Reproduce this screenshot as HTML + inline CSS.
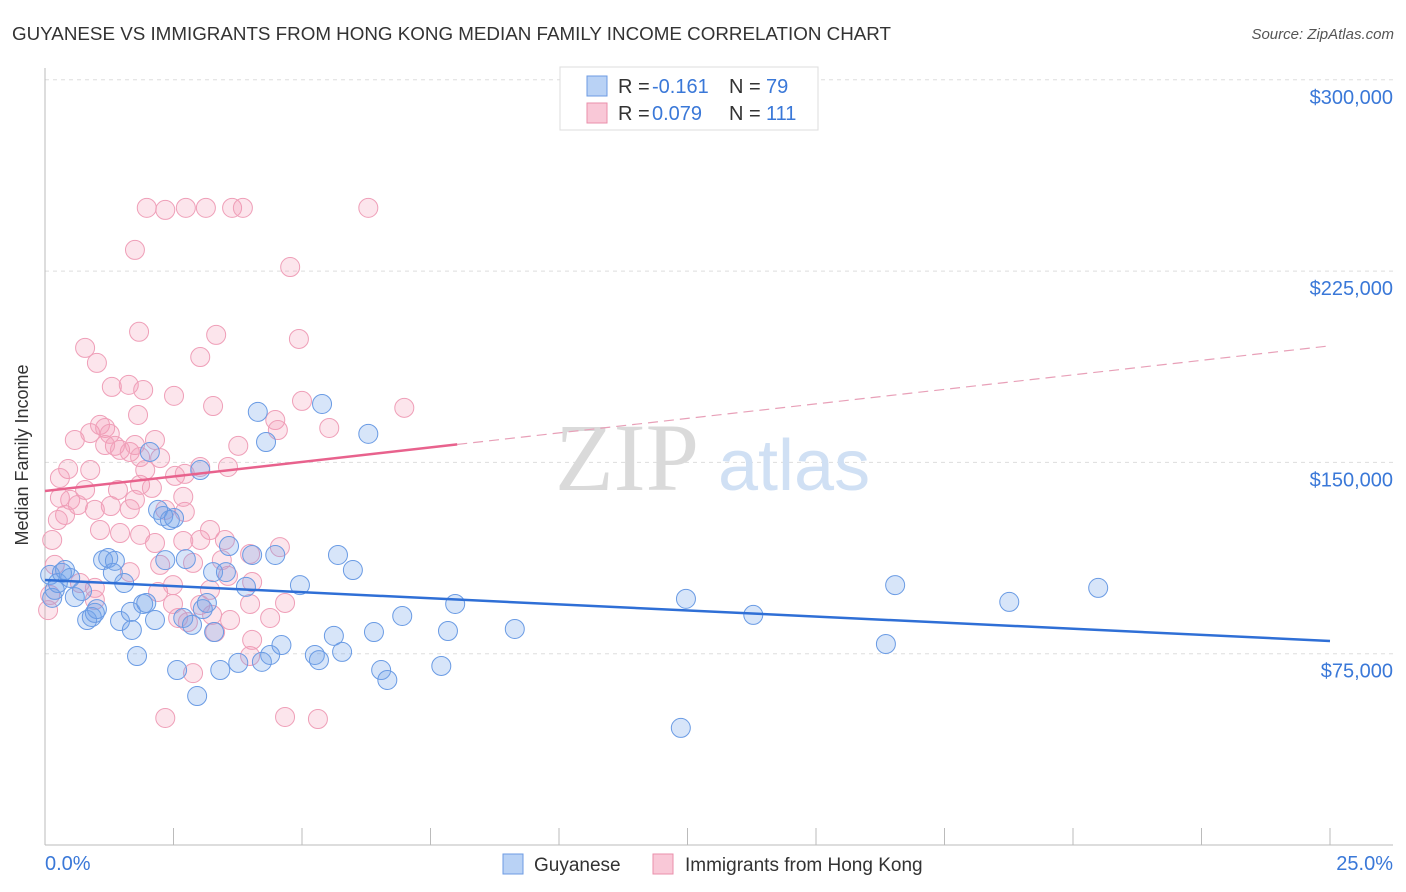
<!DOCTYPE html>
<html><head><meta charset="utf-8"><style>
body{margin:0;background:#fff;font-family:"Liberation Sans",sans-serif}
svg{display:block}
</style></head><body>
<svg width="1406" height="892" viewBox="0 0 1406 892">
<text x="12" y="40" font-size="18.8" fill="#333">GUYANESE VS IMMIGRANTS FROM HONG KONG MEDIAN FAMILY INCOME CORRELATION CHART</text>
<text x="1394" y="39" font-size="15" fill="#555" font-style="italic" text-anchor="end">Source: ZipAtlas.com</text>
<g id="grid"></g>
<text x="555" y="490" font-size="96" font-family="Liberation Serif,serif" fill="#dadada">ZIP</text>
<text x="718" y="490" font-size="72" fill="#d0e0f4">atlas</text>
<g id="pts"></g>
<g id="lines"></g>
<text x="28" y="455" font-size="18" fill="#333" text-anchor="middle" transform="rotate(-90 28 455)">Median Family Income</text>
<text x="45" y="870" font-size="20" fill="#3a78d8">0.0%</text>
<text x="1393" y="870" font-size="20" fill="#3a78d8" text-anchor="end">25.0%</text>
<g>
<rect x="560" y="67" width="258" height="63" fill="#fff" stroke="#ddd"/>
<rect x="587" y="76" width="20" height="20" fill="#b9d2f5" stroke="#6d9be3"/>
<rect x="587" y="103" width="20" height="20" fill="#f9c8d7" stroke="#ea8fab"/>
<text x="618" y="93" font-size="20" fill="#333">R =</text>
<text x="652" y="93" font-size="20" fill="#3a78d8">-0.161</text>
<text x="729" y="93" font-size="20" fill="#333">N =</text>
<text x="766" y="93" font-size="20" fill="#3a78d8">79</text>
<text x="618" y="120" font-size="20" fill="#333">R =</text>
<text x="652" y="120" font-size="20" fill="#3a78d8">0.079</text>
<text x="729" y="120" font-size="20" fill="#333">N =</text>
<text x="766" y="120" font-size="20" fill="#3a78d8">111</text>
</g>
<g>
<rect x="503" y="854" width="20" height="20" fill="#b9d2f5" stroke="#6d9be3"/>
<text x="534" y="871" font-size="19" fill="#333">Guyanese</text>
<rect x="653" y="854" width="20" height="20" fill="#f9c8d7" stroke="#ea8fab"/>
<text x="685" y="871" font-size="19" fill="#333">Immigrants from Hong Kong</text>
</g>
</svg>
<script>
const yTicks=[75000,150000,225000,300000];
const yTickLabels=["$75,000","$150,000","$225,000","$300,000"];
const xTicks=[0,2.5,5,7.5,10,12.5,15,17.5,20,22.5,25];
const blueX=[.10,.14,.19,.25,.33,.39,.49,.58,.72,.82,.91,.97,1.01,1.13,1.23,1.32,1.36,1.54,1.46,1.67,1.69,1.79,1.91,1.97,2.04,2.14,2.20,2.30,2.43,2.51,2.34,2.57,2.69,2.74,2.86,2.96,3.02,3.07,3.15,3.27,3.29,3.41,3.52,3.58,3.76,3.91,4.03,4.14,4.22,4.30,4.38,4.48,4.60,4.96,5.25,5.33,5.39,5.62,5.70,5.78,5.99,6.29,6.40,6.54,6.66,6.95,7.71,7.84,7.98,9.14,12.37,12.47,13.78,16.36,16.54,18.76,20.49];
const blueY=[105.9,96.9,100.0,102.7,106.7,107.8,104.7,97.2,99.6,88.2,89.4,91.0,92.5,111.7,112.5,106.7,111.4,102.7,87.8,91.4,84.3,74.1,94.5,94.9,154.1,88.2,131.4,129.0,127.4,128.2,111.7,68.6,89.0,112.1,86.3,58.4,147.0,92.5,94.9,107.0,83.5,68.6,107.0,117.2,71.4,101.2,113.7,169.8,71.8,158.0,74.5,113.7,78.4,101.9,74.5,72.5,172.9,82.0,113.7,75.7,107.8,161.2,83.5,68.6,64.7,89.8,70.2,83.9,94.5,84.7,45.9,96.5,90.2,78.8,101.9,95.3,100.8];
const pinkX=[1.98,2.34,2.74,3.13,3.64,3.85,6.29,1.75,4.77,1.83,3.33,4.94,.78,1.01,3.02,1.30,1.63,1.91,2.51,3.27,5.00,6.99,1.81,4.48,4.53,5.53,3.76,.45,.58,.88,1.07,1.17,1.26,1.36,1.46,1.65,1.75,1.85,2.14,2.24,2.53,2.72,3.02,3.56,1.85,2.08,.29,.49,.64,.78,.97,1.07,1.28,1.65,.29,.39,.25,.14,.19,.06,.10,.68,.97,1.17,1.42,.88,2.34,2.69,2.72,3.02,3.21,2.14,2.24,2.69,2.88,3.21,3.44,3.56,3.99,4.03,4.57,1.65,.97,2.20,2.49,2.59,2.78,2.49,3.02,3.25,3.60,4.03,4.38,4.67,2.34,2.88,4.67,5.31,3.99,1.85,1.46,3.31,3.99,3.50,1.75,1.95];
const pinkY=[249.8,249.0,249.8,249.8,249.8,249.8,249.8,233.3,226.6,201.2,200.0,198.4,194.9,189.0,191.3,179.6,180.4,178.4,176.1,172.1,174.1,171.4,168.6,166.6,162.7,163.5,156.5,147.4,158.8,161.5,164.7,163.5,161.2,156.5,154.9,154.1,156.8,152.1,158.8,151.7,144.7,145.5,148.2,148.2,141.2,140.0,143.9,135.3,133.3,139.2,131.4,123.5,132.9,131.7,136.1,129.4,127.4,119.6,109.8,92.1,98.0,102.7,100.8,156.8,139.2,147.0,131.4,136.5,130.6,119.6,123.5,118.4,109.8,119.2,110.6,100.0,111.7,105.5,114.1,103.1,116.8,107.0,96.1,99.2,101.9,89.0,87.4,94.5,94.1,90.2,88.2,80.4,89.0,94.9,49.8,67.4,50.2,49.4,74.1,121.6,122.3,83.5,94.5,119.6,135.3,147.0];
const blueTrend=[103.9,80.0];
const pinkTrend=[138.8,195.7];
const pinkSolidEnd=8.02;
const NS='http://www.w3.org/2000/svg';
const X0=45,X1=1330,Y0=845,YPX=191.3;
const sx=v=>X0+(v/25)*(X1-X0);
const sy=k=>Y0-(k/75)*YPX;
function mk(t,a){const e=document.createElementNS(NS,t);for(const k in a)e.setAttribute(k,a[k]);return e;}
const grid=document.getElementById('grid');
yTicks.forEach((v,i)=>{
  const y=sy(v/1000);
  const l=mk('line',{x1:45,x2:1393,y1:y,y2:y,stroke:'#ddd','stroke-dasharray':'4 4'});
  
  
  grid.appendChild(l);
  const t=mk('text',{x:1393,y:y+24,'font-size':20,fill:'#3a78d8','text-anchor':'end'});
  t.textContent=yTickLabels[i];
  
  
  grid.appendChild(t);
});
const ax=mk('line',{x1:45,x2:1393,y1:Y0,y2:Y0,stroke:'#bbb'});


grid.appendChild(ax);
const ay=mk('line',{x1:45,x2:45,y1:68,y2:Y0,stroke:'#bbb'});


grid.appendChild(ay);
xTicks.forEach(v=>{
  const t=mk('line',{x1:sx(v),x2:sx(v),y1:828,y2:Y0,stroke:'#bbb'});
  
  
  grid.appendChild(t);
});
const pts=document.getElementById('pts');
pinkX.forEach((x,i)=>{
  const c=mk('circle',{cx:sx(x),cy:sy(pinkY[i]),r:9.5,fill:'rgba(244,150,180,0.25)',stroke:'#ef9fb8','stroke-width':1});
  
  
  pts.appendChild(c);
});
blueX.forEach((x,i)=>{
  const c=mk('circle',{cx:sx(x),cy:sy(blueY[i]),r:9.5,fill:'rgba(110,160,235,0.28)',stroke:'#6a9be4','stroke-width':1});
  
  
  pts.appendChild(c);
});
const ln=document.getElementById('lines');
const bl=mk('line',{x1:sx(0),y1:sy(blueTrend[0]),x2:sx(25),y2:sy(blueTrend[1]),stroke:'#2f6fd6','stroke-width':2.5});


ln.appendChild(bl);
const pe=pinkTrend[0]+(pinkTrend[1]-pinkTrend[0])*pinkSolidEnd/25;
const pl=mk('line',{x1:sx(0),y1:sy(pinkTrend[0]),x2:sx(pinkSolidEnd),y2:sy(pe),stroke:'#e8628d','stroke-width':2.5});


ln.appendChild(pl);
const pd=mk('line',{x1:sx(pinkSolidEnd),y1:sy(pe),x2:sx(25),y2:sy(pinkTrend[1]),stroke:'#e8a0b8','stroke-width':1.2,'stroke-dasharray':'10 6'});


ln.appendChild(pd);
</script>
</body></html>
